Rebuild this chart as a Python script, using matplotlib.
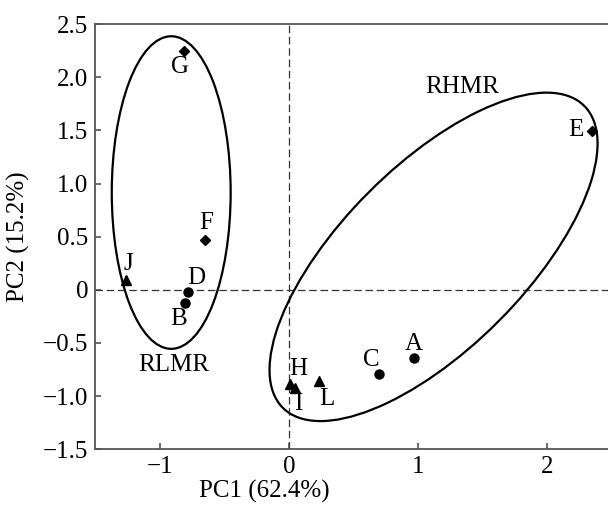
import matplotlib
matplotlib.use("Agg")
import matplotlib.pyplot as plt
from matplotlib.patches import Ellipse

plt.rcParams["font.family"] = ["Liberation Serif", "DejaVu Serif"]

# samples: name, PC1, PC2
names = ["A", "B", "C", "D", "E", "F", "G", "H", "I", "J", "L"]
pc1 = [0.97, -0.80, 0.70, -0.78, 2.35, -0.65, -0.81, 0.01, 0.05, -1.26, 0.23]
pc2 = [-0.64, -0.12, -0.79, -0.02, 1.49, 0.47, 2.25, -0.89, -0.92, 0.09, -0.86]
kind = ["o", "o", "o", "o", "D", "D", "D", "^", "^", "^", "^"]

# group ellipses (centre x, centre y, width, height, angle)
groups = ["RLMR", "RHMR"]
ell_cx = [-0.91, 1.12]
ell_cy = [0.915, 0.31]
ell_w = [0.92, 3.69]
ell_h = [2.94, 1.54]
ell_ang = [0, 53]
group_text_x = [-0.89, 1.34]
group_text_y = [-0.71, 1.91]

xticks = [-1, 0, 1, 2]
xticklabels = ["\u22121", "0", "1", "2"]
yticks = [2.5, 2.0, 1.5, 1.0, 0.5, 0, -0.5, -1.0, -1.5]
yticklabels = ["2.5", "2.0", "1.5", "1.0", "0.5", "0", "\u22120.5", "\u22121.0", "\u22121.5"]

# label offsets (points) for each sample name
offs = {"A": (0, 10), "B": (-5, -12), "C": (-6, 10), "D": (6, 10), "E": (-12, 1),
        "F": (1, 12), "G": (-3, -12), "H": (6, 11), "I": (2, -12), "J": (2, 12),
        "L": (6, -13)}

fig = plt.figure(figsize=(6.08, 5.09), dpi=100)
ax = fig.add_axes([0.1562, 0.1173, 0.8438, 0.8355])

ax.axhline(0, color="#333333", lw=0.9, linestyle=(0, (6, 3)), zorder=1)
ax.axvline(0, color="#333333", lw=0.9, linestyle=(0, (6, 3)), zorder=1)

for i in range(len(groups)):
    e = Ellipse((ell_cx[i], ell_cy[i]), ell_w[i], ell_h[i], angle=ell_ang[i],
                fill=False, edgecolor="black", lw=1.6, zorder=2)
    ax.add_patch(e)
    ax.text(group_text_x[i], group_text_y[i], groups[i], fontsize=18,
            ha="center", va="center")

sizes = {"o": 6.5, "D": 5.5, "^": 6.5}
for n, x, y, m in zip(names, pc1, pc2, kind):
    ax.plot(x, y, marker=m, color="black", ms=sizes[m], linestyle="none", zorder=3)
    ax.annotate(n, (x, y), xytext=offs[n], textcoords="offset points",
                ha="center", va="center", fontsize=18)

ax.set_xlim(-1.5, 2.47)
ax.set_ylim(-1.5, 2.5)
ax.set_xticks(xticks)
ax.set_xticklabels(xticklabels)
ax.set_yticks(yticks)
ax.set_yticklabels(yticklabels)
ax.tick_params(direction="in", length=4.5, width=1.1, color="#444444",
               labelsize=18, pad=5)

for s in ["left", "bottom", "top"]:
    ax.spines[s].set_color("#555555")
    ax.spines[s].set_linewidth(1.3)
ax.spines["right"].set_visible(False)

ax.set_xlabel("PC1 (62.4%)", fontsize=18, va="center")
ax.xaxis.set_label_coords(0.331, -0.098)
ax.set_ylabel("PC2 (15.2%)", fontsize=18)
ax.yaxis.set_label_coords(-0.126, 0.5)

fig.savefig("out.png", dpi=100)
